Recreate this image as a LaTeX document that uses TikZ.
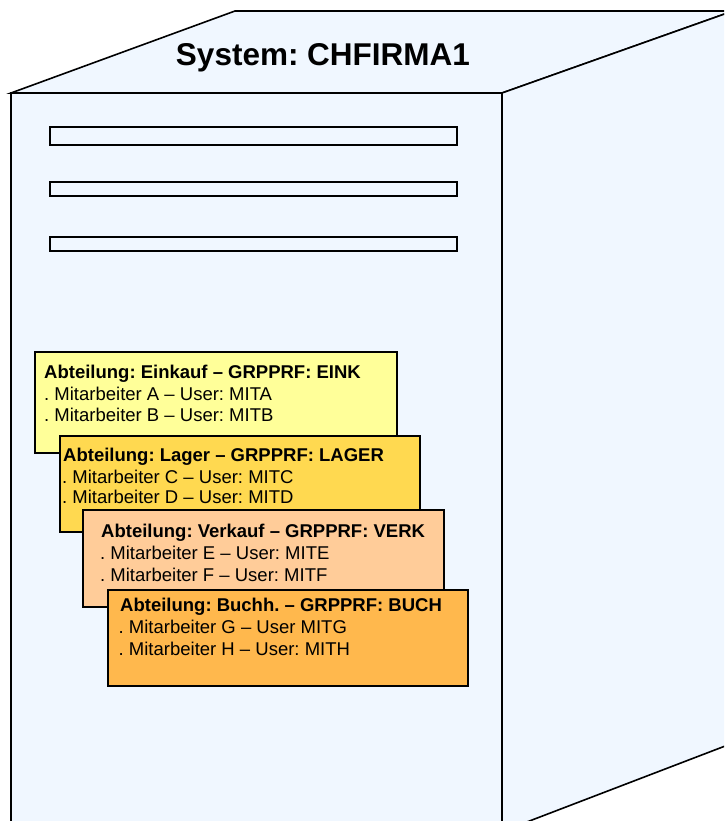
\documentclass[tikz,border=0pt]{standalone}
\usepackage{fontspec}
\setmainfont{Liberation Sans}
\frenchspacing
\definecolor{facebg}{RGB}{240,247,255}
\definecolor{boxA}{RGB}{255,255,153}
\definecolor{boxB}{RGB}{255,217,80}
\definecolor{boxC}{RGB}{255,204,153}
\definecolor{boxD}{RGB}{255,184,77}
\tikzset{
  face/.style={draw=black, line width=1.6pt, fill=facebg, line join=miter},
  slat/.style={draw=black, line width=1.6pt, fill=facebg},
  dept/.style={draw=black, line width=1.6pt, rectangle, anchor=north west, inner sep=0pt},
  ttl/.style={anchor=base west, inner sep=0pt, font=\fontsize{18.5}{20}\selectfont\bfseries},
  ln/.style={anchor=base west, inner sep=0pt, font=\fontsize{18.5}{20}\selectfont},
}
\begin{document}
\begin{tikzpicture}[x=1pt,y=-1pt]
\useasboundingbox (0,0) rectangle (724,821);
\fill[white] (0,0) rectangle (724,821);
\begin{scope}
\clip (0,0) rectangle (724,821);
% cube
\draw[face] (11,93) -- (11,850) -- (502,850) -- (502,93) -- cycle;
\draw[face] (11,93) -- (235,11) -- (733,11) -- (502,93) -- cycle;
\draw[face] (502,93) -- (733,11) -- (733,743) -- (502,831.5) -- cycle;
\end{scope}
\node[font=\fontsize{31.5}{34}\selectfont\bfseries, anchor=base] (sys) at (323,66) {System: CHFIRMA1};
% slats
\node[slat, rectangle, anchor=north west, minimum width=407pt, minimum height=18pt, inner sep=0pt] (s1) at (49,126) {};
\node[slat, rectangle, anchor=north west, minimum width=407pt, minimum height=14pt, inner sep=0pt] (s2) at (49,181) {};
\node[slat, rectangle, anchor=north west, minimum width=407pt, minimum height=14pt, inner sep=0pt] (s3) at (49,236) {};
% department boxes
\node[dept, fill=boxA, minimum width=362pt, minimum height=101pt] (b1) at (34,351) {};
\node[ttl] (b1t) at (44,378) {Abteilung: Einkauf – GRPPRF: EINK};
\node[ln] (b1a) at (44,400) {. Mitarbeiter A – User: MITA};
\node[ln] (b1b) at (44,421) {. Mitarbeiter B – User: MITB};

\node[dept, fill=boxB, minimum width=360pt, minimum height=96pt] (b2) at (59,435) {};
\node[ttl] (b2t) at (63,461) {Abteilung: Lager – GRPPRF: LAGER};
\node[ln] (b2a) at (62,483) {. Mitarbeiter C – User: MITC};
\node[ln] (b2b) at (62,503.5) {. Mitarbeiter D – User: MITD};

\node[dept, fill=boxC, minimum width=361pt, minimum height=97pt] (b3) at (82,509) {};
\node[ttl] (b3t) at (101,537.5) {Abteilung: Verkauf – GRPPRF: VERK};
\node[ln] (b3a) at (100,559.5) {. Mitarbeiter E – User: MITE};
\node[ln] (b3b) at (100,581) {. Mitarbeiter F – User: MITF};

\node[dept, fill=boxD, minimum width=360pt, minimum height=96pt] (b4) at (107,589) {};
\node[ttl] (b4t) at (120,611) {Abteilung: Buchh. – GRPPRF: BUCH};
\node[ln] (b4a) at (118.5,633.5) {. Mitarbeiter G – User MITG};
\node[ln] (b4b) at (118.5,655) {. Mitarbeiter H – User: MITH};
\end{tikzpicture}
\end{document}
